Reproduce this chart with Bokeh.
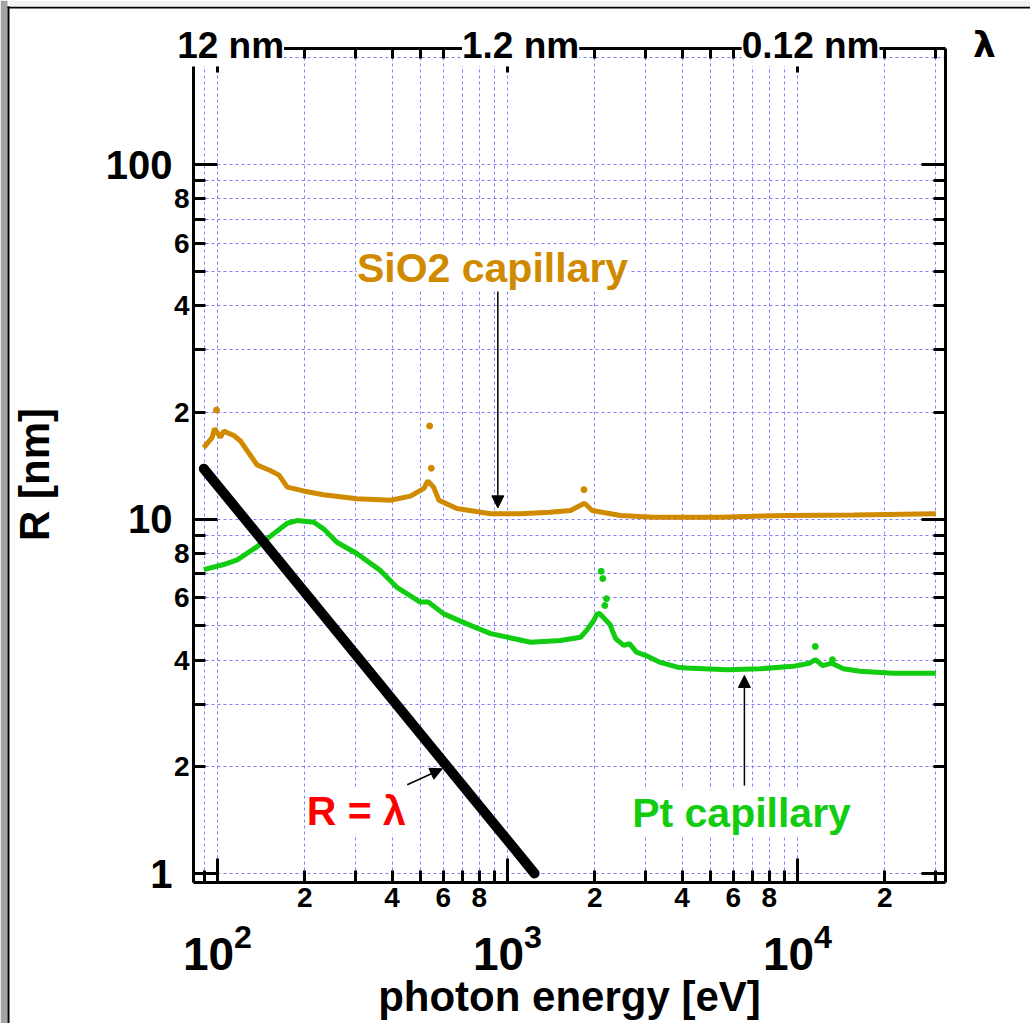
from bokeh.plotting import figure
from bokeh.models import (LogAxis, FixedTicker, Range1d, Label, Arrow, NormalHead,
                          BoxAnnotation, Grid)
from bokeh.embed import file_html
from bokeh.resources import INLINE

# ---------------- data ----------------
sio2_E = [89.7, 95.9, 97.6, 102.4, 105.1, 113.8, 120, 130, 137, 152, 163, 174, 198, 232,
          303, 395, 463, 515, 531, 556, 580, 669, 875, 1109, 1400, 1649, 1843, 1959,
          2453, 3183, 5410, 9177, 15630, 30000]
sio2_R = [15.9, 17.0, 18.0, 17.0, 17.7, 17.2, 16.6, 15.1, 14.2, 13.7, 13.3, 12.3, 12.0, 11.7,
          11.4, 11.3, 11.6, 12.2, 12.8, 12.3, 11.3, 10.7, 10.35, 10.34, 10.45, 10.57, 11.08, 10.57,
          10.23, 10.12, 10.12, 10.23, 10.26, 10.34]
sio2_spike_E = [99.2, 539, 546, 1835]
sio2_spike_R = [20.3, 18.3, 13.9, 12.1]

pt_E = [89.7, 105, 117, 137, 156, 174, 188, 215, 232, 258, 303, 365, 417, 500, 533, 603,
        724, 875, 1201, 1521, 1786, 1875, 1983, 2037, 2076, 2258, 2297, 2365, 2516, 2633,
        2783, 3004, 3364, 3855, 4142, 5706, 7420, 9660, 11000, 11540, 12200, 13140, 14390,
        16440, 21330, 30000]
pt_R = [7.20, 7.44, 7.67, 8.36, 9.08, 9.73, 9.90, 9.79, 9.38, 8.60, 7.98, 7.15, 6.40, 5.83,
        5.83, 5.40, 5.06, 4.75, 4.49, 4.54, 4.64, 4.85, 5.17, 5.40, 5.41, 5.04, 4.85, 4.59,
        4.40, 4.45, 4.21, 4.12, 3.94, 3.82, 3.80, 3.755, 3.78, 3.84, 3.92, 4.01, 3.86, 3.92,
        3.78, 3.72, 3.67, 3.67]
pt_spike_E = [2104, 2131, 2195, 2165, 11520, 13200]
pt_spike_R = [7.12, 6.79, 5.96, 5.70, 4.37, 4.01]

lam_E = [89.7, 1240]          # R = lambda line
lam_R = [13.86, 1.0]

# axis ranges (plot box)
E_lo, E_hi = 82.7, 32370
R_lo, R_hi = 0.943, 212.5
R_axis_top = 189
R_grid_top = 200

# ticks
x_big_ticks = [100, 1000, 10000]
x_small_ticks = [200, 400, 600, 800, 2000, 4000, 6000, 8000, 20000]
x_small_labels = ["2", "4", "6", "8", "2", "4", "6", "8", "2"]
x_minor_ticks = [90, 300, 500, 700, 900, 3000, 5000, 7000, 9000, 30000]
x_grid = [90, 100, 200, 300, 400, 500, 600, 700, 800, 900, 1000, 2000, 3000, 4000, 5000,
          6000, 7000, 8000, 9000, 10000, 20000, 30000]
top_ticks = [200, 300, 400, 500, 600, 2000, 3000, 4000, 5000, 6000, 20000, 30000]
top_lambda = [12, 1.2, 0.12]
top_labels = ["12 nm", "1.2 nm", "0.12 nm"]

y_big_ticks = [1, 10, 100]
y_big_labels = ["1", "10", "100"]
y_small_ticks = [2, 4, 6, 8, 20, 40, 60, 80]
y_small_labels = ["2", "4", "6", "8", "2", "4", "6", "8"]
y_minor_ticks = [3, 5, 7, 9, 30, 50, 70, 90]
y_grid = [1, 2, 3, 4, 5, 6, 7, 8, 9, 10, 20, 30, 40, 50, 60, 70, 80, 90, 100, 200]

# annotations
sio2_text = ("SiO2 capillary", 888, 50.9)
pt_text = ("Pt capillary", 6412, 1.486)
rl_text = ("R = \u03bb", 301, 1.496)
sio2_arrow = (926, 46.5, 926, 10.75)
pt_arrow = (6560, 1.77, 6560, 3.62)
rl_arrow = (451, 1.78, 596, 1.974)

ORANGE = "#D08A00"
GREEN = "#11CC11"
GRID = "#7F7FFF"
FONT = "Liberation Sans"

W, H = 1030, 1023


# pixel -> data mapping of the whole canvas (the frame fills the canvas so that
# axes labels and annotations outside the plot box are not clipped)
def ex(px):
    return 10 ** (2 + (px - 217) / 290)


def ry(py):
    return 10 ** ((873 - py) / 354.5)


p = figure(width=W, height=H, x_axis_type="log", y_axis_type="log",
           x_range=Range1d(ex(0), ex(W)), y_range=Range1d(ry(H), ry(0)),
           x_axis_location=None, y_axis_location=None,
           output_backend="svg", toolbar_location=None,
           min_border_left=0, min_border_right=0, min_border_top=0, min_border_bottom=0,
           outline_line_color=None, background_fill_color="white", border_fill_color="white")

# grids
for g in list(p.center):
    if isinstance(g, Grid):
        p.center.remove(g)

has_cross = "cross_bounds" in Grid.properties()
xg = Grid(dimension=0, ticker=FixedTicker(ticks=x_grid), bounds=(E_lo, E_hi))
yg = Grid(dimension=1, ticker=FixedTicker(ticks=y_grid), bounds=(R_lo, R_grid_top))
if has_cross:
    xg.cross_bounds = (R_lo, R_grid_top)
    yg.cross_bounds = (E_lo, E_hi)
for g in (xg, yg):
    g.grid_line_color = GRID
    g.grid_line_dash = "3 3"
    g.grid_line_width = 1
    if has_cross:
        p.add_layout(g, "center")
if not has_cross:
    p.segment(x0=x_grid, y0=[R_lo] * len(x_grid), x1=x_grid, y1=[R_grid_top] * len(x_grid),
              line_color=GRID, line_dash="3 3", line_width=1)
    p.segment(x0=[E_lo] * len(y_grid), y0=y_grid, x1=[E_hi] * len(y_grid), y1=y_grid,
              line_color=GRID, line_dash="3 3", line_width=1)


def style_axis(ax, size, line=True):
    ax.axis_line_width = 3
    ax.axis_line_color = "black" if line else None
    ax.major_tick_line_width = 3
    ax.minor_tick_line_width = 3
    ax.major_tick_out = 0
    ax.minor_tick_out = 0
    ax.major_label_text_font = FONT
    ax.major_label_text_font_style = "bold"
    ax.major_label_text_font_size = size
    ax.major_label_text_color = "black"
    ax.axis_label_text_font = FONT
    ax.axis_label_text_font_style = "bold"
    ax.axis_label_text_font_size = "42px"
    ax.axis_label_text_color = "black"


# left axes
yA = LogAxis(fixed_location=E_lo, bounds=(R_lo, R_axis_top),
             ticker=FixedTicker(ticks=y_small_ticks, minor_ticks=y_minor_ticks),
             major_label_overrides=dict(zip(y_small_ticks, y_small_labels)))
style_axis(yA, "28px")
yA.major_tick_in = 12
yA.minor_tick_in = 12
yA.major_label_standoff = 4
p.add_layout(yA, "left")

yB = LogAxis(fixed_location=E_lo, bounds=(R_lo, R_axis_top),
             ticker=FixedTicker(ticks=y_big_ticks, minor_ticks=[]),
             major_label_overrides=dict(zip(y_big_ticks, y_big_labels)),
             axis_label="R [nm]")
style_axis(yB, "40px", line=False)
yB.major_tick_in = 24
yB.major_label_standoff = 21
yB.axis_label_standoff = 45
p.add_layout(yB, "left")

# right axis
yR = LogAxis(fixed_location=E_hi, bounds=(R_lo, R_hi),
             ticker=FixedTicker(ticks=y_big_ticks, minor_ticks=y_small_ticks + y_minor_ticks),
             major_label_overrides={t: "" for t in y_big_ticks})
style_axis(yR, "10px")
yR.major_tick_in = 24
yR.minor_tick_in = 12
p.add_layout(yR, "right")

# bottom axes
xA = LogAxis(fixed_location=R_lo, bounds=(E_lo, E_hi),
             ticker=FixedTicker(ticks=x_small_ticks, minor_ticks=x_minor_ticks),
             major_label_overrides=dict(zip(x_small_ticks, x_small_labels)))
style_axis(xA, "28px")
xA.major_tick_in = 12
xA.minor_tick_in = 12
xA.major_label_standoff = 5
p.add_layout(xA, "below")

xB = LogAxis(fixed_location=R_lo, bounds=(E_lo, E_hi),
             ticker=FixedTicker(ticks=x_big_ticks, minor_ticks=[]),
             axis_label="photon energy [eV]")
style_axis(xB, "46px", line=False)
xB.major_tick_in = 24
xB.major_label_standoff = 40
xB.axis_label_standoff = 0
p.add_layout(xB, "below")

# top (wavelength) axis
xT = LogAxis(fixed_location=R_hi, bounds=(E_lo, E_hi),
             ticker=FixedTicker(ticks=top_ticks, minor_ticks=[]),
             major_label_overrides={t: "" for t in top_ticks})
style_axis(xT, "10px")
xT.major_tick_in = 10
p.add_layout(xT, "above")

# short energy ticks at the top edge of the left axis
xT2 = LogAxis(fixed_location=R_axis_top, bounds=(E_lo, E_hi),
              ticker=FixedTicker(ticks=x_big_ticks, minor_ticks=[]),
              major_label_overrides={t: "" for t in x_big_ticks})
style_axis(xT2, "10px", line=False)
xT2.major_tick_in = 6
p.add_layout(xT2, "above")

# data
p.line(pt_E, pt_R, line_width=5, color=GREEN)
p.scatter(pt_spike_E, pt_spike_R, size=6, color=GREEN)
p.line(sio2_E, sio2_R, line_width=5, color=ORANGE)
p.scatter(sio2_spike_E, sio2_spike_R, size=6, color=ORANGE)
p.line(lam_E, lam_R, line_width=10, color="black", line_cap="round")

# arrows
for (xs, ys, xe, ye) in (sio2_arrow, pt_arrow, rl_arrow):
    p.add_layout(Arrow(end=NormalHead(size=12, fill_color="black", line_color="black"),
                       x_start=xs, y_start=ys, x_end=xe, y_end=ye,
                       line_width=1.5, line_color="black"))

# text labels
for (txt, x, y), col in ((sio2_text, ORANGE), (pt_text, GREEN), (rl_text, "red")):
    p.add_layout(Label(x=x, y=y, text=txt, text_align="center", text_baseline="middle",
                       text_font=FONT, text_font_style="bold", text_font_size="41px",
                       text_color=col, background_fill_color="white"))

for lam, txt in zip(top_lambda, top_labels):
    p.add_layout(Label(x=1239.84 / lam, y=R_hi, text=txt, text_align="center",
                       text_baseline="middle", x_offset=9, y_offset=3,
                       text_font=FONT, text_font_style="bold", text_font_size="37px",
                       text_color="black", background_fill_color="white"))

p.add_layout(Label(x=ex(984), y=R_hi, text="\u03bb", text_align="center",
                   text_baseline="middle", y_offset=4, text_font="DejaVu Sans",
                   text_font_style="bold", text_font_size="36px", text_color="black"))

# page decoration (slide border)
p.add_layout(BoxAnnotation(left=ex(0), right=ex(7), bottom=ry(H), top=ry(0),
                           fill_color="#a4a4a4", fill_alpha=1, line_color=None))
p.add_layout(BoxAnnotation(left=ex(7), right=ex(9), bottom=ry(H), top=ry(6),
                           fill_color="black", fill_alpha=1, line_color=None))
p.add_layout(BoxAnnotation(left=ex(7), right=ex(W), bottom=ry(8), top=ry(6),
                           fill_color="black", fill_alpha=1, line_color=None))
p.add_layout(BoxAnnotation(left=ex(9), right=ex(W), bottom=ry(6), top=ry(0),
                           fill_color="#f2f2f2", fill_alpha=1, line_color=None))

open("out.html", "w").write(file_html(p, INLINE))
